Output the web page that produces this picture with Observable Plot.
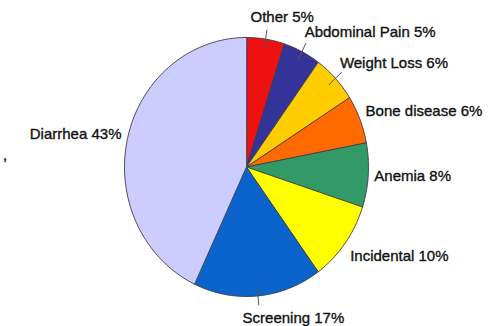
<!DOCTYPE html>
<html>
<head>
<meta charset="utf-8">
<script src="https://cdn.jsdelivr.net/npm/d3@7"></script>
<script src="https://cdn.jsdelivr.net/npm/@observablehq/plot@0.6"></script>
<style>
  html, body { margin: 0; padding: 0; background: #fff; }
  #wrap { position: relative; width: 500px; height: 326px; overflow: hidden; }
  #stray { position: absolute; left: 3px; top: 146px; font: 15px "Liberation Sans", Arial, sans-serif; color: #111; -webkit-text-stroke: 0.4px #111; }
</style>
</head>
<body>
<div id="wrap"><div id="stray">,</div></div>
<script>
// Slices in clockwise order from 12 o'clock
const categories = ["Other", "Abdominal Pain", "Weight Loss", "Bone disease", "Anemia", "Incidental", "Screening", "Diarrhea"];
const percents   = [5, 5, 6, 6, 8, 10, 17, 43];
const colors     = ["#ee1111", "#333399", "#ffcc00", "#ff6a00", "#339966", "#ffff00", "#0a64cc", "#ccccff"];
const leaderLabels = ["Other", "Abdominal Pain", "Weight Loss", "Screening"];

const total = d3.sum(percents);
let cum = 0;
const slices = categories.map((name, i) => {
  const a0 = cum / total * 2 * Math.PI;
  cum += percents[i];
  const a1 = cum / total * 2 * Math.PI;
  return {name, pct: percents[i], a0, a1, mid: (a0 + a1) / 2, label: `${name} ${percents[i]}%`};
});

// wedge outlines in unit-circle data space (angle clockwise from top)
const wedgePts = [];
for (const s of slices) {
  wedgePts.push({name: s.name, x: 0, y: 0});
  const n = Math.max(2, Math.ceil((s.a1 - s.a0) / 0.02));
  for (let k = 0; k <= n; k++) {
    const a = s.a0 + (s.a1 - s.a0) * k / n;
    wedgePts.push({name: s.name, x: Math.sin(a), y: Math.cos(a)});
  }
}

const leaders = [];
for (const s of slices.filter(s => leaderLabels.includes(s.name))) {
  leaders.push({name: s.name, x: 0.93 * Math.sin(s.mid), y: 0.93 * Math.cos(s.mid)});
  leaders.push({name: s.name, x: 1.07 * Math.sin(s.mid), y: 1.07 * Math.cos(s.mid)});
}

const lx = s => 1.05 * Math.sin(s.mid);
const ly = s => 1.17 * Math.cos(s.mid);
const right = slices.filter(s => Math.sin(s.mid) > 0.3);
const left = slices.filter(s => Math.sin(s.mid) < -0.3);
const vert = slices.filter(s => Math.abs(Math.sin(s.mid)) <= 0.3);

const font = {fontSize: 15, fontFamily: "'Liberation Sans', Arial, sans-serif", fill: "#111", stroke: "#111", strokeWidth: 0.35};

const chart = Plot.plot({
  width: 500,
  height: 326,
  marginLeft: 124,
  marginRight: 132,
  marginTop: 37,
  marginBottom: 30,
  x: {domain: [-1, 1], axis: null},
  y: {domain: [-1, 1], axis: null},
  color: {domain: categories, range: colors},
  style: {background: "transparent", overflow: "visible"},
  marks: [
    Plot.line(wedgePts, {x: "x", y: "y", z: "name", fill: "name", stroke: "#3a3a4a", strokeWidth: 0.9, curve: "linear-closed"}),
    Plot.line(leaders, {x: "x", y: "y", z: "name", stroke: "#555", strokeWidth: 1}),
    Plot.text(right, {x: lx, y: ly, text: "label", textAnchor: "start", ...font}),
    Plot.text(left, {x: lx, y: ly, text: "label", textAnchor: "end", ...font}),
    Plot.text(vert, {x: lx, y: ly, text: "label", textAnchor: "start", dx: -16, ...font})
  ]
});
chart.style.position = "absolute";
chart.style.left = "0";
chart.style.top = "0";
document.getElementById("wrap").appendChild(chart);
</script>
</body>
</html>
